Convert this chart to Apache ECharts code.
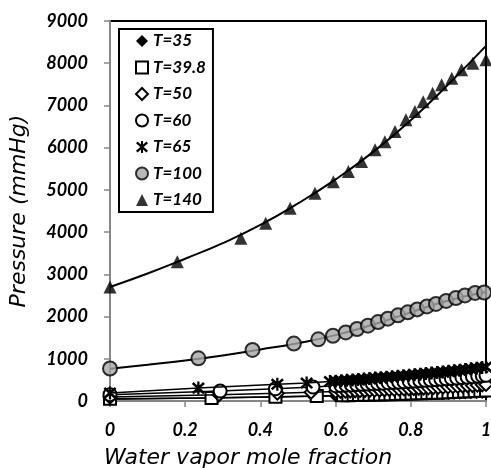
<!DOCTYPE html>
<html><head><meta charset="utf-8">
<script src="https://cdn.jsdelivr.net/npm/echarts@6/dist/echarts.min.js"></script>
<style>html,body{margin:0;padding:0;background:#fff}#c{width:491px;height:468px}</style>
</head><body><div id="c"></div>
<script>
// ---- data ----
const xTickLabels = ['0', '0.2', '0.4', '0.6', '0.8', '1'];
const yTickLabels = ['0','1000','2000','3000','4000','5000','6000','7000','8000','9000'];

const t35X  = [0, 0.285, 0.445, 0.54, 0.6, 0.615, 0.63, 0.645, 0.66, 0.675, 0.69, 0.705, 0.72, 0.735, 0.75, 0.765, 0.78, 0.795, 0.81, 0.825, 0.84, 0.855, 0.87, 0.885, 0.9, 0.915, 0.93, 0.945, 0.96, 0.975, 0.99, 1.0];
const t35Y  = [42, 75, 95, 110, 120, 122, 125, 128, 130, 133, 135, 138, 140, 143, 146, 149, 152, 155, 158, 161, 164, 167, 170, 173, 177, 181, 185, 189, 193, 197, 201, 205];

const t398X = [0, 0.27, 0.44, 0.55, 0.62, 0.634, 0.648, 0.662, 0.676, 0.69, 0.704, 0.718, 0.732, 0.746, 0.76, 0.774, 0.788, 0.802, 0.816, 0.83, 0.844, 0.858, 0.872, 0.886, 0.9, 0.914, 0.928, 0.942, 0.956, 0.97, 0.985, 1.0];
const t398Y = [55, 70, 100, 120, 135, 138, 141, 144, 147, 150, 153, 156, 159, 162, 166, 170, 174, 178, 182, 186, 190, 194, 198, 203, 208, 213, 218, 223, 228, 234, 240, 246];

const t50X  = [0, 0.29, 0.445, 0.535, 0.6, 0.613, 0.626, 0.639, 0.652, 0.665, 0.678, 0.691, 0.704, 0.717, 0.73, 0.743, 0.756, 0.769, 0.782, 0.795, 0.808, 0.821, 0.834, 0.847, 0.86, 0.873, 0.886, 0.899, 0.912, 0.925, 0.938, 0.951, 0.964, 0.977, 0.99, 1.0];
const t50Y  = [95, 150, 185, 210, 225, 229, 233, 237, 241, 245, 249, 253, 257, 261, 266, 271, 276, 281, 286, 291, 296, 301, 306, 311, 317, 323, 329, 335, 341, 347, 354, 361, 368, 375, 383, 392];

const t60X  = [0, 0.293, 0.44, 0.54, 0.6, 0.614, 0.628, 0.642, 0.656, 0.67, 0.684, 0.698, 0.712, 0.726, 0.74, 0.754, 0.768, 0.782, 0.796, 0.81, 0.824, 0.838, 0.852, 0.866, 0.88, 0.894, 0.908, 0.922, 0.936, 0.95, 0.964, 0.978, 0.99, 1.0];
const t60Y  = [150, 235, 290, 330, 360, 367, 374, 381, 388, 395, 402, 409, 416, 423, 431, 439, 447, 455, 463, 471, 480, 489, 498, 507, 516, 525, 535, 545, 555, 565, 576, 587, 598, 608];

const t65X  = [0, 0.235, 0.445, 0.523, 0.585, 0.6, 0.615, 0.63, 0.645, 0.66, 0.675, 0.69, 0.705, 0.72, 0.735, 0.75, 0.765, 0.78, 0.795, 0.81, 0.825, 0.84, 0.855, 0.87, 0.885, 0.9, 0.915, 0.93, 0.945, 0.96, 0.975, 0.99, 1.0];
const t65Y  = [190, 305, 395, 425, 460, 470, 480, 490, 500, 510, 520, 531, 542, 553, 564, 575, 587, 599, 611, 623, 636, 649, 662, 675, 689, 703, 717, 731, 746, 761, 776, 792, 805];

const t100X = [0, 0.235, 0.379, 0.489, 0.554, 0.593, 0.627, 0.657, 0.686, 0.713, 0.739, 0.766, 0.792, 0.817, 0.843, 0.867, 0.894, 0.920, 0.944, 0.971, 0.995];
const t100Y = [770, 1010, 1210, 1360, 1460, 1545, 1625, 1705, 1785, 1870, 1950, 2030, 2100, 2170, 2240, 2300, 2370, 2440, 2500, 2560, 2570];

const t140X = [0, 0.179, 0.348, 0.414, 0.479, 0.545, 0.594, 0.634, 0.669, 0.705, 0.731, 0.758, 0.787, 0.811, 0.833, 0.858, 0.882, 0.909, 0.935, 0.965, 1.0];
const t140Y = [2700, 3300, 3855, 4210, 4565, 4920, 5195, 5435, 5670, 5950, 6140, 6380, 6660, 6855, 7090, 7290, 7490, 7645, 7845, 8000, 8080];

// fitted model curves (read at x = 0, 0.1, ... 1)
const curveX    = [0, 0.1, 0.2, 0.3, 0.4, 0.5, 0.6, 0.7, 0.8, 0.9, 1.0];
const curve100Y = [765, 860, 960, 1080, 1220, 1370, 1560, 1810, 2100, 2380, 2580];
const curve140Y = [2700, 3020, 3370, 3740, 4170, 4680, 5250, 5900, 6650, 7500, 8410];

const names = ['T=35', 'T=39.8', 'T=50', 'T=60', 'T=65', 'T=100', 'T=140'];

// ---- drawing ----
const zip = (xs, ys) => xs.map((x, i) => [x, ys[i]]);
const STAR = 'path://M-9.185,-5.645L6.815,8.355L9.185,5.645L-6.815,-8.355Z M6.815,-8.355L-9.185,5.645L-6.815,8.355L9.185,-5.645Z M-1.6,-9L-1.6,9L1.6,9L1.6,-9Z';

const styles = {
  'T=35':   {symbol: 'diamond', size: 13, legendSize: 12, item: {color: '#000', borderColor: '#000', borderWidth: 0}},
  'T=39.8': {symbol: 'rect', size: 12, item: {color: '#fff', borderColor: '#000', borderWidth: 2}},
  'T=50':   {symbol: 'diamond', size: 13, item: {color: '#fff', borderColor: '#000', borderWidth: 2}},
  'T=60':   {symbol: 'circle', size: 13, item: {color: '#fff', borderColor: '#000', borderWidth: 2}},
  'T=65':   {symbol: STAR, size: 13, item: {color: '#000', borderColor: '#000', borderWidth: 0}},
  'T=100':  {symbol: 'circle', size: 14, item: {color: '#a6a6a6', borderColor: '#000', borderWidth: 2}},
  'T=140':  {symbol: 'triangle', size: 13, item: {color: '#000', borderColor: '#000', borderWidth: 0}}
};

const lowData = [zip(t35X, t35Y), zip(t398X, t398Y), zip(t50X, t50Y), zip(t60X, t60Y), zip(t65X, t65Y)];

const series = [];
names.slice(0, 5).forEach((n, i) => {
  const s = styles[n];
  series.push({
    name: n, type: 'line', data: lowData[i], smooth: false,
    symbol: s.symbol, symbolSize: s.size, showSymbol: true,
    lineStyle: {color: '#000', width: 1.5},
    itemStyle: s.item, z: 2 + i, animation: false
  });
});
series.push({
  name: 'fit100', type: 'line', data: zip(curveX, curve100Y), smooth: true,
  showSymbol: false, symbol: 'none', lineStyle: {color: '#000', width: 2}, z: 8, animation: false
});
series.push({
  name: 'T=100', type: 'scatter', data: zip(t100X, t100Y),
  symbol: styles['T=100'].symbol, symbolSize: styles['T=100'].size,
  itemStyle: styles['T=100'].item, z: 9, animation: false
});
series.push({
  name: 'T=140', type: 'scatter', data: zip(t140X, t140Y),
  symbol: styles['T=140'].symbol, symbolSize: styles['T=140'].size,
  itemStyle: styles['T=140'].item, z: 10, animation: false
});
series.push({
  name: 'fit140', type: 'line', data: zip(curveX, curve140Y), smooth: true,
  showSymbol: false, symbol: 'none', lineStyle: {color: '#000', width: 2}, z: 11, animation: false
});

const FONT = 'Lato';
const TITLE_FONT = 'DejaVu Sans';
const chart = echarts.init(document.getElementById('c'), null, {renderer: 'canvas'});
chart.setOption({
  animation: false,
  backgroundColor: '#fff',
  grid: {left: 110, right: 5, top: 21, bottom: 67, containLabel: false, outerBoundsMode: 'none',
         show: true, borderColor: '#000', borderWidth: 2, backgroundColor: 'transparent'},
  legend: {
    orient: 'vertical', left: 119, top: 29,
    padding: [3, 7, 3, 16],
    itemWidth: 12, itemHeight: 12, itemGap: 8.5,
    backgroundColor: '#fff', borderColor: '#000', borderWidth: 2, borderRadius: 0,
    textStyle: {fontFamily: FONT, fontStyle: 'italic', fontWeight: 'bold', fontSize: 17, color: '#000', lineHeight: 18},
    data: names.map(n => ({name: n, icon: styles[n].symbol, itemStyle: styles[n].item})),
    selectedMode: false
  },
  xAxis: {
    type: 'value', min: 0, max: 1, interval: 0.2,
    name: 'Water vapor mole fraction', nameLocation: 'middle', nameGap: 46,
    nameTextStyle: {fontFamily: TITLE_FONT, fontStyle: 'italic', fontSize: 22, color: '#000', padding: [0, 100, 0, 0]},
    axisLine: {show: true, onZero: false, lineStyle: {color: '#868686', width: 2}},
    axisTick: {show: true, inside: false, length: 6, lineStyle: {color: '#868686', width: 1.5}},
    splitLine: {show: false},
    axisLabel: {margin: 20, fontFamily: FONT, fontStyle: 'italic', fontWeight: 'bold', fontSize: 18, color: '#000',
      formatter: v => xTickLabels[Math.round(v / 0.2)]}
  },
  yAxis: {
    type: 'value', min: 0, max: 9000, interval: 1000,
    name: 'Pressure (mmHg)', nameLocation: 'middle', nameGap: 80,
    nameTextStyle: {fontFamily: TITLE_FONT, fontStyle: 'italic', fontSize: 22, color: '#000'},
    axisLine: {show: true, onZero: false, lineStyle: {color: '#868686', width: 2}},
    axisTick: {show: true, inside: false, length: 6, lineStyle: {color: '#868686', width: 1.5}},
    splitLine: {show: false},
    axisLabel: {margin: 22, fontFamily: FONT, fontStyle: 'italic', fontWeight: 'bold', fontSize: 18, color: '#000',
      formatter: v => yTickLabels[Math.round(v / 1000)]}
  },
  series: series
});
</script></body></html>
